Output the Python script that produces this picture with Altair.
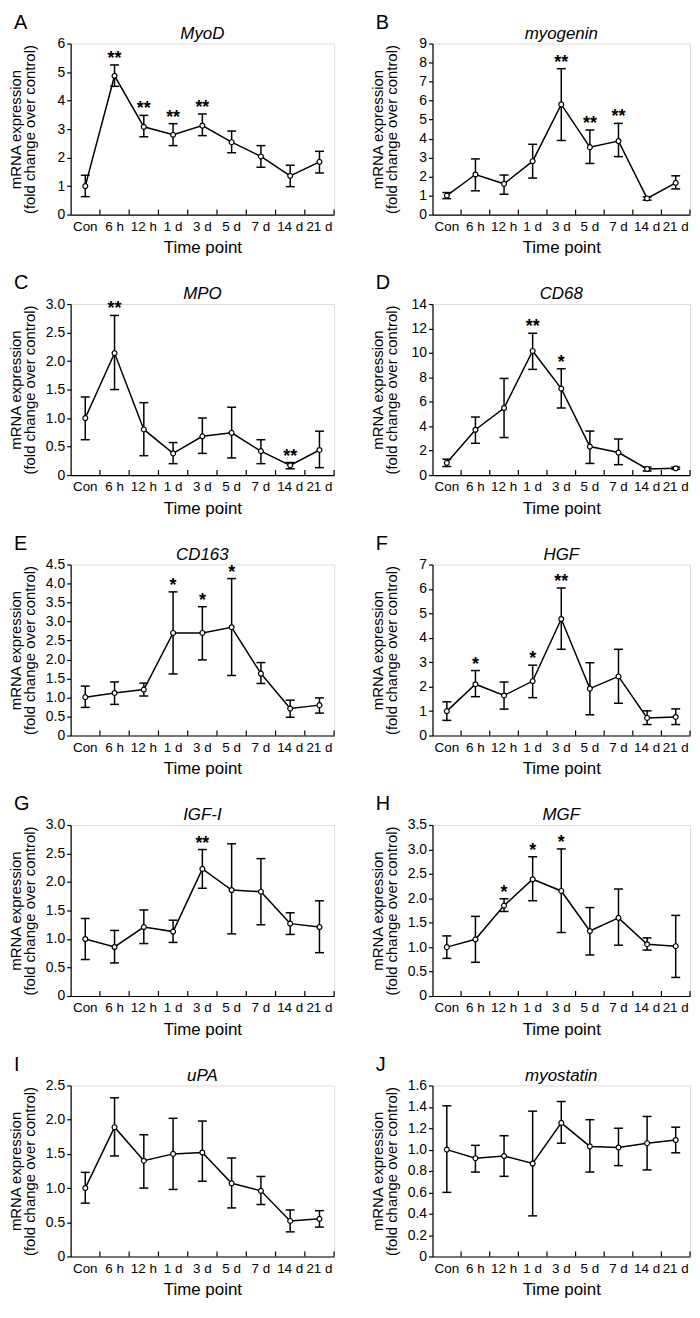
import altair as alt
import pandas as pd

FONT = "Liberation Sans"

times = ["Con", "6 h", "12 h", "1 d", "3 d", "5 d", "7 d", "14 d", "21 d"]
letters = ["A", "B", "C", "D", "E", "F", "G", "H", "I", "J"]
genes = ["MyoD", "myogenin", "MPO", "CD68", "CD163", "HGF", "IGF-I", "MGF", "uPA", "myostatin"]

# A MyoD
myod_mean = [1.00, 4.87, 3.08, 2.80, 3.12, 2.54, 2.04, 1.36, 1.85]
myod_lo = [0.63, 4.50, 2.73, 2.42, 2.77, 2.17, 1.66, 0.98, 1.46]
myod_hi = [1.38, 5.25, 3.48, 3.19, 3.53, 2.93, 2.42, 1.73, 2.22]
myod_sig = ["", "**", "**", "**", "**", "", "", "", ""]

# B myogenin
myog_mean = [1.00, 2.11, 1.62, 2.81, 5.80, 3.55, 3.87, 0.85, 1.67]
myog_lo = [0.84, 1.25, 1.07, 1.92, 3.90, 2.69, 3.05, 0.76, 1.35]
myog_hi = [1.16, 2.93, 2.08, 3.70, 7.68, 4.45, 4.80, 0.93, 2.04]
myog_sig = ["", "", "", "", "**", "**", "**", "", ""]

# C MPO
mpo_mean = [1.00, 2.14, 0.80, 0.38, 0.68, 0.74, 0.42, 0.17, 0.44]
mpo_lo = [0.62, 1.50, 0.34, 0.20, 0.38, 0.30, 0.20, 0.11, 0.13]
mpo_hi = [1.37, 2.80, 1.27, 0.57, 1.00, 1.19, 0.62, 0.22, 0.77]
mpo_sig = ["", "**", "", "", "", "", "", "**", ""]

# D CD68
cd68_mean = [1.00, 3.71, 5.49, 10.16, 7.08, 2.33, 1.84, 0.50, 0.55]
cd68_lo = [0.70, 2.60, 3.07, 8.65, 5.49, 0.95, 0.85, 0.33, 0.47]
cd68_hi = [1.30, 4.75, 7.91, 11.61, 8.70, 3.60, 2.95, 0.65, 0.65]
cd68_sig = ["", "", "", "**", "*", "", "", "", ""]

# E CD163
cd163_mean = [1.01, 1.12, 1.21, 2.70, 2.70, 2.85, 1.63, 0.71, 0.80]
cd163_lo = [0.74, 0.82, 1.04, 1.62, 1.99, 1.58, 1.37, 0.48, 0.59]
cd163_hi = [1.30, 1.41, 1.38, 3.78, 3.39, 4.13, 1.92, 0.93, 0.99]
cd163_sig = ["", "", "", "*", "*", "*", "", "", ""]

# F HGF
hgf_mean = [1.00, 2.10, 1.64, 2.23, 4.77, 1.92, 2.42, 0.72, 0.76]
hgf_lo = [0.62, 1.59, 1.08, 1.55, 3.53, 0.85, 1.32, 0.45, 0.45]
hgf_hi = [1.38, 2.66, 2.19, 2.88, 6.04, 2.98, 3.53, 1.01, 1.09]
hgf_sig = ["", "*", "", "*", "**", "", "", "", ""]

# G IGF-I
igf_mean = [1.00, 0.86, 1.21, 1.13, 2.23, 1.86, 1.83, 1.27, 1.21]
igf_lo = [0.64, 0.58, 0.92, 0.94, 1.89, 1.09, 1.25, 1.08, 0.76]
igf_hi = [1.36, 1.15, 1.51, 1.33, 2.57, 2.67, 2.41, 1.46, 1.67]
igf_sig = ["", "", "", "", "**", "", "", "", ""]

# H MGF
mgf_mean = [1.00, 1.16, 1.85, 2.39, 2.15, 1.33, 1.60, 1.06, 1.02]
mgf_lo = [0.77, 0.69, 1.73, 1.95, 1.30, 0.84, 1.04, 0.94, 0.38]
mgf_hi = [1.23, 1.63, 1.99, 2.85, 3.01, 1.81, 2.19, 1.19, 1.65]
mgf_sig = ["", "", "*", "*", "*", "", "", "", ""]

# I uPA
upa_mean = [1.00, 1.89, 1.40, 1.50, 1.52, 1.07, 0.96, 0.52, 0.55]
upa_lo = [0.78, 1.47, 1.00, 0.98, 1.10, 0.71, 0.76, 0.36, 0.43]
upa_hi = [1.23, 2.32, 1.78, 2.02, 1.98, 1.44, 1.17, 0.68, 0.67]
upa_sig = ["", "", "", "", "", "", "", "", ""]

# J myostatin
mstn_mean = [1.00, 0.92, 0.94, 0.87, 1.25, 1.03, 1.02, 1.06, 1.09]
mstn_lo = [0.60, 0.79, 0.75, 0.38, 1.06, 0.79, 0.85, 0.81, 0.97]
mstn_hi = [1.41, 1.04, 1.13, 1.36, 1.45, 1.28, 1.20, 1.31, 1.21]
mstn_sig = ["", "", "", "", "", "", "", "", ""]

means = [myod_mean, myog_mean, mpo_mean, cd68_mean, cd163_mean, hgf_mean, igf_mean, mgf_mean, upa_mean, mstn_mean]
lows = [myod_lo, myog_lo, mpo_lo, cd68_lo, cd163_lo, hgf_lo, igf_lo, mgf_lo, upa_lo, mstn_lo]
highs = [myod_hi, myog_hi, mpo_hi, cd68_hi, cd163_hi, hgf_hi, igf_hi, mgf_hi, upa_hi, mstn_hi]
sigs = [myod_sig, myog_sig, mpo_sig, cd68_sig, cd163_sig, hgf_sig, igf_sig, mgf_sig, upa_sig, mstn_sig]

y_max = [6, 9, 3.0, 14, 4.5, 7, 3.0, 3.5, 2.5, 1.6]
y_step = [1, 1, 0.5, 2, 0.5, 1, 0.5, 0.5, 0.5, 0.2]
y_decimal = [False, False, True, False, True, False, True, True, True, True]

y_title = ["mRNA expression", "(fold change over control)"]

H = 172


def panel(i):
    df = pd.DataFrame({"t": times, "m": means[i], "lo": lows[i], "hi": highs[i], "sig": sigs[i]})
    w = 265 if i % 2 == 0 else 259
    n_ticks = int(round(y_max[i] / y_step[i]))
    tick_vals = [round(k * y_step[i], 2) for k in range(n_ticks + 1)]
    label_expr = ("datum.value == 0 ? '0' : format(datum.value, '.1f')"
                  if y_decimal[i] else "format(datum.value, 'd')")

    xscale = alt.Scale(domain=times, paddingInner=0, paddingOuter=0)
    xaxis = alt.Axis(labelAngle=0, ticks=False, grid=False, labelOverlap=False,
                     domainColor="black", domainWidth=1.2, labelColor="black",
                     labelFont=FONT, labelFontSize=13.5, labelPadding=5,
                     titleFont=FONT, titleFontSize=17, titleFontWeight="normal",
                     titleColor="black", titlePadding=7)
    yscale = alt.Scale(domain=[0, y_max[i]], nice=False, zero=True)
    yaxis = alt.Axis(values=tick_vals, labelExpr=label_expr, grid=False,
                     tickSize=4, tickColor="black", tickWidth=1.2,
                     domainColor="black", domainWidth=1.2,
                     labelColor="black", labelFont=FONT, labelFontSize=14, labelPadding=2,
                     titleFont=FONT, titleFontSize=15, titleFontWeight="normal",
                     titleColor="black", titleX=-47, titleBaseline="bottom",
                     titleLineHeight=14)

    def xd():
        return alt.X("t:N", scale=xscale, axis=xaxis, title="Time point", sort=times)

    def yd(field):
        return alt.Y(f"{field}:Q", scale=yscale, axis=yaxis, title=y_title)

    base = alt.Chart(df)
    line = base.mark_line(color="black", strokeWidth=1.5).encode(x=xd(), y=yd("m"))
    err = base.mark_rule(color="black", strokeWidth=1.5).encode(x=xd(), y=yd("lo"), y2="hi:Q")
    cap_hi = base.mark_tick(color="black", thickness=1.5, size=9, opacity=1).encode(x=xd(), y=yd("hi"))
    cap_lo = base.mark_tick(color="black", thickness=1.5, size=9, opacity=1).encode(x=xd(), y=yd("lo"))
    pts = base.mark_circle(fill="white", stroke="black", strokeWidth=1.2, size=24, opacity=1).encode(
        x=xd(), y=yd("m"))
    stars = base.mark_text(color="black", font=FONT, fontSize=18, fontWeight="bold",
                           baseline="alphabetic", dy=-1).encode(x=xd(), y=yd("hi"), text="sig:N")
    inner_ticks = base.mark_rule(color="black", strokeWidth=1.2).encode(
        x=alt.X("t:N", scale=xscale, axis=xaxis, title="Time point", sort=times, bandPosition=1),
        y=alt.value(H), y2=alt.value(H - 5))

    lab = alt.Chart(pd.DataFrame({"l": [letters[i]], "g": [genes[i]]}))
    letter = lab.mark_text(
        color="black", font=FONT, fontSize=20, align="left", baseline="alphabetic").encode(
        x=alt.value(-57), y=alt.value(-15), text="l:N")
    gene = lab.mark_text(
        color="black", font=FONT, fontSize=17, fontStyle="italic", align="center",
        baseline="alphabetic").encode(x=alt.value(w / 2), y=alt.value(-5), text="g:N")

    return alt.layer(line, err, cap_hi, cap_lo, pts, stars, inner_ticks, letter, gene).properties(
        width=w, height=H)


panels = [panel(i) for i in range(10)]

chart = alt.concat(*panels, columns=2, spacing={"row": 90, "column": 99},
                   bounds="flush", align="all").properties(
    padding={"top": 0, "left": 0, "right": 0, "bottom": 0}
).configure_view(stroke=None).configure(background="white")

chart.save("out.html", embed_options={"renderer": "svg", "actions": False})
